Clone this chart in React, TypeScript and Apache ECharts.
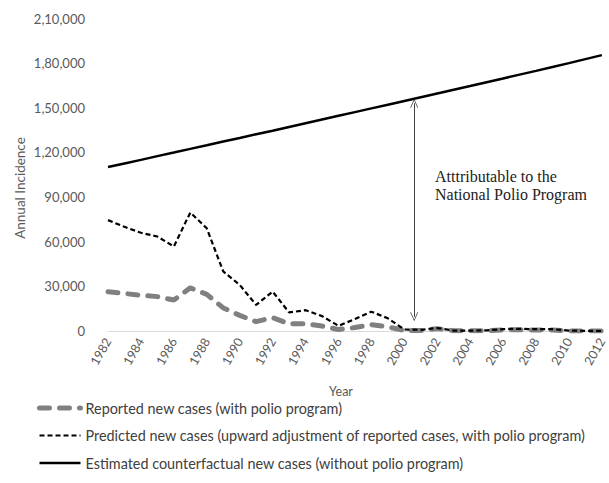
import React, { useEffect, useRef } from "react";
import * as echarts from "echarts";

const years = [
  "1982", "1983", "1984", "1985", "1986", "1987", "1988", "1989", "1990", "1991",
  "1992", "1993", "1994", "1995", "1996", "1997", "1998", "1999", "2000", "2001",
  "2002", "2003", "2004", "2005", "2006", "2007", "2008", "2009", "2010", "2011", "2012",
];

const reported = [
  26400, 25200, 24000, 23100, 20800, 29000, 24600, 15500, 10500, 6300,
  9000, 4800, 4800, 3300, 1000, 2300, 4300, 2800, 300, 300,
  1600, 200, 100, 100, 700, 900, 600, 700, 40, 1, 0,
];

const predicted = [
  74500, 70000, 66000, 63500, 56800, 79600, 69000, 40000, 31000, 17500,
  26500, 12500, 14000, 10000, 3500, 8000, 13000, 8500, 1000, 800,
  2000, 300, 300, 400, 1300, 1500, 1200, 1200, 300, 100, 0,
];

const counterfactual = [
  110200, 112600, 115000, 117500, 119900, 122400, 124800, 127300, 129700, 132200,
  134600, 137100, 139600, 142100, 144600, 147100, 149600, 152100, 154600, 157100,
  159600, 162100, 164600, 167200, 169700, 172300, 174800, 177400, 180000, 182700, 185400,
];

const seriesNames = [
  "Reported new cases (with polio program)",
  "Predicted new cases (upward adjustment of reported cases, with polio program)",
  "Estimated counterfactual new cases (without polio program)",
];

// arrow annotation in data space: year (continuous), top value, bottom value
const yearMin = 1982;
const yearMax = 2012;
const arrowYear = 2000.6;
const arrowTop = 153000;
const arrowBottom = 9500;

const annotationLines = ["Atttributable to the", "National Polio Program"];

function indianFormat(v: number): string {
  const s = String(Math.round(v));
  if (s.length <= 3) return s;
  const last3 = s.slice(-3);
  let rest = s.slice(0, -3);
  const parts: string[] = [];
  while (rest.length > 2) {
    parts.unshift(rest.slice(-2));
    rest = rest.slice(0, -2);
  }
  if (rest) parts.unshift(rest);
  return parts.join(",") + "," + last3;
}

const chevron = "path://M0,10 L5,0 L10,10 L9,10 L5,2 L1,10 Z";

export default function App() {
  const ref = useRef<HTMLDivElement>(null);

  useEffect(() => {
    document.body.style.margin = "0";
    if (!ref.current) return;
    const chart = echarts.init(ref.current, undefined, { renderer: "svg" });
    const labelFont = "Lato";
    chart.setOption({
      animation: false,
      backgroundColor: "#ffffff",
      grid: { left: 108, right: 6, top: 18.5, bottom: 152 },
      xAxis: [
        {
          type: "category",
          data: years,
          boundaryGap: false,
          axisLine: { show: true, lineStyle: { color: "#d9d9d9", width: 1 } },
          axisTick: { show: false },
          splitLine: { show: false },
          axisLabel: {
            interval: 1,
            rotate: 60,
            color: "#595959",
            fontFamily: labelFont,
            fontSize: 12.5,
            margin: 8,
          },
        },
        {
          type: "value",
          min: yearMin,
          max: yearMax,
          show: false,
          splitLine: { show: false },
        },
      ],
      yAxis: {
        type: "value",
        min: 0,
        max: 210000,
        interval: 30000,
        axisLine: { show: false },
        axisTick: { show: false },
        splitLine: { show: false },
        axisLabel: {
          formatter: indianFormat,
          color: "#595959",
          fontFamily: labelFont,
          fontSize: 13,
          margin: 23,
        },
      },
      legend: {
        orient: "vertical",
        left: 37,
        top: 401,
        padding: 0,
        itemWidth: 41,
        itemHeight: 14,
        itemGap: 13.5,
        selectedMode: false,
        itemStyle: { opacity: 0 },
        lineStyle: { width: "inherit" },
        textStyle: { color: "#404040", fontFamily: labelFont, fontSize: 14.4 },
        data: seriesNames,
      },
      series: [
        {
          name: seriesNames[0],
          type: "line",
          data: reported,
          symbol: "none",
          z: 2,
          itemStyle: { color: "#808080" },
          lineStyle: { color: "#808080", width: 5, type: [10, 10], cap: "round" },
        },
        {
          name: seriesNames[1],
          type: "line",
          data: predicted,
          symbol: "none",
          z: 3,
          itemStyle: { color: "#000000" },
          lineStyle: { color: "#000000", width: 2.2, type: [5, 3] },
        },
        {
          name: seriesNames[2],
          type: "line",
          data: counterfactual,
          symbol: "none",
          z: 4,
          itemStyle: { color: "#000000" },
          lineStyle: { color: "#000000", width: 2.5, type: "solid" },
        },
        {
          name: "arrow",
          type: "line",
          xAxisIndex: 1,
          data: [],
          symbol: "none",
          markLine: {
            silent: true,
            symbol: [chevron, chevron],
            symbolSize: [8, 9],
            label: { show: false },
            lineStyle: { color: "#404040", width: 1, type: "solid" },
            emphasis: { disabled: true },
            data: [
              [
                { coord: [arrowYear, arrowTop] },
                { coord: [arrowYear, arrowBottom] },
              ],
            ],
          },
        },
      ],
      graphic: [
        {
          type: "text",
          x: 20,
          y: 188,
          rotation: Math.PI / 2,
          style: {
            text: "Annual Incidence",
            fill: "#595959",
            font: "13.5px Lato",
            align: "center",
            verticalAlign: "middle",
            textAlign: "center",
            textVerticalAlign: "middle",
          },
        },
        {
          type: "text",
          x: 341,
          y: 391,
          style: {
            text: "Year",
            fill: "#595959",
            font: "12.5px Lato",
            align: "center",
            verticalAlign: "middle",
            textAlign: "center",
            textVerticalAlign: "middle",
          },
        },
        ...annotationLines.map((t, i) => ({
          type: "text",
          x: 435,
          y: 176 + i * 18.5,
          style: {
            text: t,
            fill: "#222222",
            font: '16px "Liberation Serif"',
            align: "left",
            verticalAlign: "middle",
            textAlign: "left",
            textVerticalAlign: "middle",
          },
        })),
      ],
    });
    return () => chart.dispose();
  }, []);

  return <div ref={ref} style={{ width: 609, height: 483 }} />;
}
